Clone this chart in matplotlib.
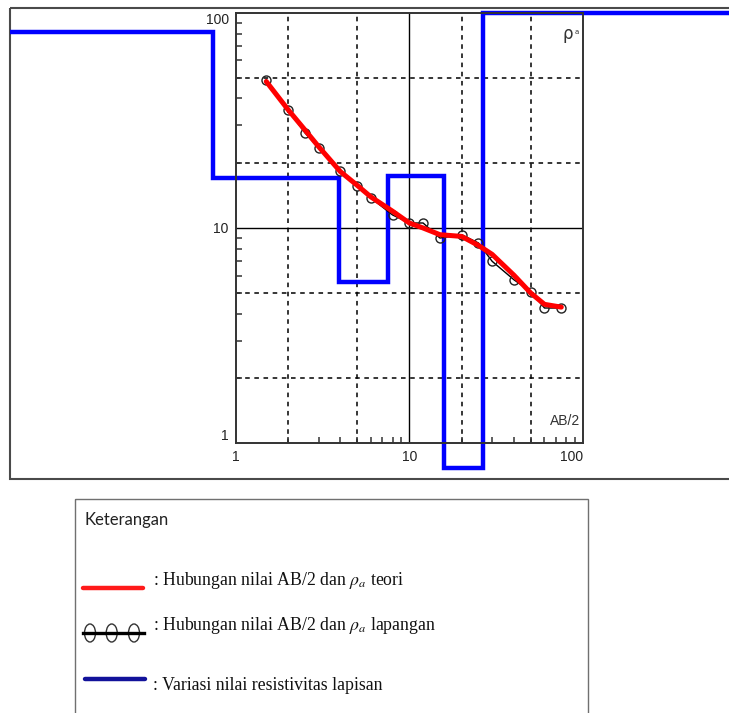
import matplotlib
matplotlib.use('Agg')
import matplotlib.pyplot as plt
from matplotlib.patches import Rectangle, Ellipse
from matplotlib.lines import Line2D
from matplotlib.ticker import LogLocator, NullFormatter, FixedLocator

plt.rcParams['mathtext.fontset'] = 'stix'

# ---------------- data ----------------
ab2 = [1.5, 2, 2.5, 3, 4, 5, 6, 8, 10, 12, 15, 20, 25, 30, 40, 50, 60, 75]
rho_field = [48.9, 35.5, 27.7, 23.6, 18.3, 15.7, 13.8, 11.5, 10.55, 10.55,
             8.98, 9.31, 8.52, 7.0, 5.75, 5.07, 4.25, 4.25]
rho_theory = [47.9, 35.5, 28.6, 23.9, 18.3, 15.8, 13.95, 11.97, 10.55, 10.0,
              9.31, 9.14, 8.3, 7.54, 6.04, 4.99, 4.42, 4.29]
# layered model (AB/2 at layer boundaries, resistivity of each layer)
layer_bounds = [0.74, 3.95, 7.56, 15.9, 26.7]
layer_rho = [81, 17.1, 5.6, 17.4, 0.77, 100]
model_start, model_end = 0.01, 1000

ticks = [1, 10, 100]
tick_labels = ['1', '10', '100']
grid_dashed = [2, 5, 20, 50]
grid_solid = [10]

legend_title = 'Keterangan'
legend_texts = [r': Hubungan nilai AB/2 dan $\rho_a$ teori',
                r': Hubungan nilai AB/2 dan $\rho_a$ lapangan',
                ': Variasi nilai resistivitas lapisan']

W, H = 729, 713
fig = plt.figure(figsize=(W / 100, H / 100), dpi=100)

# overlay axes in pixel coordinates for frame and legend
lax = fig.add_axes([0, 0, 1, 1], zorder=0)
lax.set_xlim(0, W)
lax.set_ylim(H, 0)
lax.axis('off')

frame = Rectangle((10, 8), 740, 471, fill=False, edgecolor='#4a4a4a', lw=1.5)
lax.add_patch(frame)

# main axes
axl, axr, axt, axb = 235.7, 583, 12.7, 443.3
ax = fig.add_axes([axl / W, 1 - axb / H, (axr - axl) / W, (axb - axt) / H], zorder=1)
ax.set_xscale('log')
ax.set_yscale('log')
ax.set_xlim(1, 100)
ax.set_ylim(1, 100)

for v in grid_dashed:
    ax.axvline(v, color='black', lw=1.1, ls=(0, (3, 3)), zorder=1)
    ax.axhline(v, color='black', lw=1.1, ls=(0, (3, 3)), zorder=1)
for v in grid_solid:
    ax.axvline(v, color='black', lw=1.0, zorder=1)
    ax.axhline(v, color='black', lw=1.0, zorder=1)

# layered model (step line)
xs = [model_start]
ys = [layer_rho[0]]
for b, r0, r1 in zip(layer_bounds, layer_rho[:-1], layer_rho[1:]):
    xs += [b, b]
    ys += [r0, r1]
xs.append(model_end)
ys.append(layer_rho[-1])
blue, = ax.plot(xs, ys, color='#0000ff', lw=3.2, zorder=3, solid_joinstyle='miter')
blue.set_clip_path(frame)

ax.plot(ab2, rho_field, color='black', lw=1.0, marker='o', ms=6.5,
        mfc='none', mec='#222222', mew=1.0, zorder=4)
ax.plot(ab2, rho_theory, color='#ff0000', lw=3.6, zorder=5,
        solid_capstyle='round', solid_joinstyle='round')

for s in ax.spines.values():
    s.set_color('#333333')
    s.set_linewidth(1.4)
    s.set_zorder(6)

ax.xaxis.set_major_locator(FixedLocator(ticks))
ax.yaxis.set_major_locator(FixedLocator(ticks))
ax.set_xticklabels(tick_labels)
ax.set_yticklabels(tick_labels)
for a in (ax.xaxis, ax.yaxis):
    a.set_minor_locator(LogLocator(base=10, subs=range(2, 10)))
    a.set_minor_formatter(NullFormatter())
ax.tick_params(which='major', length=0, pad=5, labelsize=10, colors='#222222')
ax.tick_params(which='minor', direction='in', length=4, width=1.1, color='#333333')
for lab in ax.get_xticklabels() + ax.get_yticklabels():
    lab.set_family(['Liberation Sans', 'DejaVu Sans'])
xl = ax.get_xticklabels()
xl[-1].set_horizontalalignment('right')
yl = ax.get_yticklabels()
yl[-1].set_verticalalignment('top')
yl[0].set_verticalalignment('bottom')

ax.text(0.9715, 0.95, 'ρ', transform=ax.transAxes, ha='right', va='center',
        fontsize=12, color='#333333', family=['DejaVu Sans'])
ax.text(0.976, 0.955, 'a', transform=ax.transAxes, ha='left', va='center',
        fontsize=5, color='#333333')
ax.text(0.993, 0.052, 'AB/2', transform=ax.transAxes, ha='right', va='center',
        fontsize=10, color='#333333', family=['Liberation Sans', 'DejaVu Sans'])

# ---------------- legend box ----------------
lax.add_patch(Rectangle((75, 499.3), 513, 240, fill=False, edgecolor='#707070', lw=1.0))
lax.text(85, 525, legend_title, fontsize=12, family=['Lato', 'DejaVu Sans'],
         va='baseline', ha='left', color='#222222')

lax.add_line(Line2D([83, 143], [587.7, 587.7], color='#ff1a1a', lw=3.2,
                    solid_capstyle='round'))
lax.add_line(Line2D([83, 144], [633, 633], color='black', lw=2.4))
for cx in [90, 111.7, 134]:
    lax.add_patch(Ellipse((cx, 633), 11, 18, fill=False, edgecolor='#333333', lw=1.0))
lax.add_line(Line2D([85, 145.5], [679.3, 679.3], color='#12129a', lw=3.2,
                    solid_capstyle='round'))

for y, t in zip([585, 630, 690], legend_texts):
    lax.text(152.7, y, t, fontsize=12.8, family=['Liberation Serif', 'DejaVu Serif'],
             va='baseline', ha='left', color='#111111')

fig.savefig('out.png', dpi=100)
